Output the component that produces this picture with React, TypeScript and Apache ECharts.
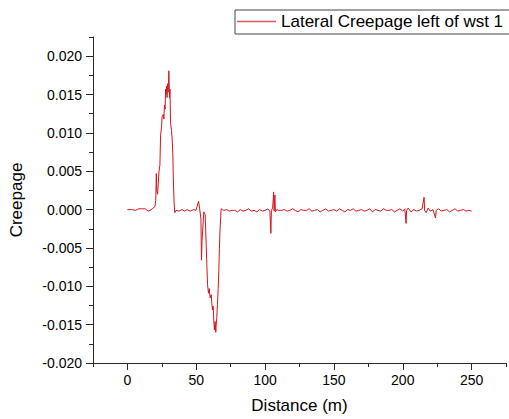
import React, { useEffect, useRef } from "react";
import * as echarts from "echarts";

const seriesName = "Lateral Creepage left of wst 1";
const xMajorTicks = [0, 50, 100, 150, 200, 250];
const yMajorTicks = [-0.02, -0.015, -0.01, -0.005, 0, 0.005, 0.01, 0.015, 0.02];

// [distance (m), creepage]
const approachSeg = [
  [0, 0.0], [3, 0.0], [6, -0.0001], [8, 0.0001], [11, 0.0001], [13, 0.0001],
  [15, -0.0002], [16.5, -0.0001], [18, 0.0001], [20, 0.0004], [20.6, 0.0012],
  [21, 0.0047], [21.3, 0.0025], [21.9, 0.002], [22.9, 0.0049], [23.6, 0.0058],
];
const positivePeakSeg = [
  [24.1, 0.0097], [24.8, 0.0108], [25.2, 0.0121], [26, 0.0124], [26.5, 0.0118],
  [26.9, 0.0136], [27.4, 0.0131], [27.7, 0.0157], [28.1, 0.015], [28.4, 0.0161],
  [28.8, 0.0146], [29.1, 0.0164], [29.6, 0.0153], [30.1, 0.0181], [30.3, 0.0166],
  [30.6, 0.0146], [30.9, 0.0157], [31.3, 0.0114], [32, 0.0103], [32.5, 0.0092],
  [33, 0.0071], [33.4, 0.0036], [33.9, 0.001], [34.4, -0.0004],
];
const middleSeg = [
  [35.3, -0.0001], [37.3, -0.0002], [39.7, 0.0], [41.6, -0.0002], [43.3, 0.0],
  [45.7, -0.0002], [48.1, 0.0], [49.8, -0.0001], [51.7, 0.0011], [52.4, 0.0002],
  [53.4, -0.0012],
];
const negativePeakSeg = [
  [53.8, -0.0066], [54.2, -0.004], [54.6, -0.0029], [55.5, -0.0003], [56.5, -0.0007],
  [57.2, -0.0046], [58.2, -0.0098], [58.9, -0.0109], [59.4, -0.0103], [60.1, -0.0115],
  [60.9, -0.0111], [61.3, -0.0122], [61.8, -0.0131], [62.3, -0.0126], [62.7, -0.0144],
  [63.2, -0.0157], [63.7, -0.0146], [64.2, -0.016], [64.5, -0.015], [64.9, -0.0141],
  [65.4, -0.0124], [65.9, -0.0103], [66.4, -0.0081], [66.8, -0.0051], [67.3, -0.0025],
  [68.1, 0.0001], [69, 0.0],
];
const tailSeg = [
  [70, -0.0001], [72, 0.0], [74, -0.0002], [76, -0.0001], [78, -0.0001], [80, -0.0003],
  [82, 0.0], [84, -0.0002], [86, -0.0001], [88, 0.0001], [90, -0.0002], [92, -0.0001],
  [94, -0.0003], [96, 0.0], [98, -0.0002], [100, -0.0001], [102, 0.0001], [103.5, -0.0002],
  [104.2, -0.0031], [104.6, -0.0001], [105.5, 0.0002], [106.2, 0.0023], [106.6, -0.0002],
  [107.1, 0.0019], [107.5, -0.0003], [108.5, 0.0], [110, -0.0001], [112, -0.0001],
  [114, 0.0], [116, -0.0002], [118, -0.0001], [120, 0.0001], [122, -0.0001], [124, -0.0003],
  [126, 0.0], [128, -0.0001], [130, -0.0001], [132, 0.0001], [134, -0.0002], [136, -0.0001],
  [138, 0.0], [140, -0.0003], [142, -0.0001], [144, 0.0001], [146, -0.0002], [148, -0.0001],
  [150, 0.0], [152, -0.0002], [154, 0.0001], [156, -0.0001], [158, -0.0003], [160, 0.0],
  [162, -0.0001], [164, 0.0001], [166, -0.0002], [168, -0.0001], [170, 0.0], [172, -0.0002],
  [174, -0.0001], [176, 0.0001], [178, -0.0003], [180, 0.0], [182, -0.0001], [184, -0.0002],
  [186, 0.0001], [188, -0.0001], [190, -0.0001], [192, 0.0], [194, -0.0003], [196, -0.0001],
  [198, 0.0001], [200, -0.0002], [201.5, 0.0001], [202.4, -0.0018], [202.8, -0.0001],
  [204, 0.0002], [206, -0.0003], [208, 0.0], [210, -0.0002], [212, -0.0001], [214, 0.0001],
  [215.5, 0.0016], [215.9, -0.0001], [217, -0.0004], [218.5, 0.0002], [220, -0.0002],
  [222, 0.0], [223.8, -0.0011], [224.3, -0.0001], [226, 0.0001], [228, -0.0002],
  [230, -0.0001], [232, 0.0], [234, -0.0003], [236, -0.0001], [238, 0.0001], [240, -0.0002],
  [242, -0.0001], [244, 0.0], [246, -0.0002], [248, -0.0001], [250, -0.0002],
];

const FONT = '"Liberation Sans", Arial, sans-serif';
const AXIS_COLOR = "#2b2b2b";
const LINE_COLOR = "#d8141b";

export default function App() {
  const ref = useRef<HTMLDivElement>(null);

  useEffect(() => {
    if (!ref.current) return;
    const chart = echarts.init(ref.current, null, { renderer: "svg" });
    const data = [
      ...approachSeg,
      ...positivePeakSeg,
      ...middleSeg,
      ...negativePeakSeg,
      ...tailSeg,
    ];
    const tickLine = { color: AXIS_COLOR, width: 1 };
    chart.setOption({
      animation: false,
      backgroundColor: "#ffffff",
      textStyle: { fontFamily: FONT },
      grid: { left: 93, right: 0, top: 37, bottom: 54, containLabel: false },
      legend: {
        left: 235,
        top: 10,
        padding: [3, 14, 4, 2],
        icon: "rect",
        itemWidth: 39,
        itemHeight: 1.5,
        borderColor: "#444",
        borderWidth: 1,
        itemStyle: { color: "#e0575d" },
        textStyle: { fontSize: 17, color: "#000", fontFamily: FONT },
        data: [seriesName],
      },
      xAxis: [
        {
          type: "value",
          min: -25,
          max: 275,
          interval: 25,
          position: "bottom",
          axisLine: { show: true, onZero: false, lineStyle: tickLine },
          axisTick: { show: true, length: 4, lineStyle: tickLine },
          axisLabel: {
            margin: 10,
            fontSize: 14,
            color: "#000",
            fontFamily: FONT,
            formatter: (v: number) => {
              const r = Math.round(v);
              return Math.abs(v - r) < 1e-6 && xMajorTicks.includes(r) ? String(r) : "";
            },
          },
          splitLine: { show: false },
          name: "Distance (m)",
          nameLocation: "middle",
          nameGap: 34,
          nameTextStyle: { fontSize: 17, color: "#000", fontFamily: FONT },
        },
        {
          type: "value",
          min: -25,
          max: 275,
          interval: 25,
          position: "bottom",
          axisLine: { show: false, onZero: false },
          axisTick: { show: true, length: 7, customValues: xMajorTicks, lineStyle: tickLine },
          axisLabel: { show: false },
          splitLine: { show: false },
        },
      ],
      yAxis: [
        {
          type: "value",
          min: -0.02,
          max: 0.0225,
          interval: 0.0025,
          position: "left",
          axisLine: { show: true, onZero: false, lineStyle: tickLine },
          axisTick: { show: true, length: 4, lineStyle: tickLine },
          axisLabel: {
            margin: 11,
            fontSize: 14,
            color: "#000",
            fontFamily: FONT,
            formatter: (v: number) => {
              const k = Math.round(v / 0.0025);
              if (Math.abs(v - k * 0.0025) > 1e-9 || k % 2 !== 0 || k > 8 || k < -8) return "";
              return (k * 0.0025).toFixed(3);
            },
          },
          splitLine: { show: false },
          name: "Creepage",
          nameLocation: "middle",
          nameRotate: 90,
          nameGap: 68,
          nameTextStyle: { fontSize: 17, color: "#000", fontFamily: FONT },
        },
        {
          type: "value",
          min: -0.02,
          max: 0.0225,
          interval: 0.0025,
          position: "left",
          axisLine: { show: false, onZero: false },
          axisTick: { show: true, length: 7, customValues: yMajorTicks, lineStyle: tickLine },
          axisLabel: { show: false },
          splitLine: { show: false },
        },
      ],
      series: [
        {
          name: seriesName,
          type: "line",
          xAxisIndex: 0,
          yAxisIndex: 0,
          data,
          symbol: "none",
          showSymbol: false,
          lineStyle: { color: LINE_COLOR, width: 1 },
          itemStyle: { color: LINE_COLOR },
        },
      ],
    });
    return () => chart.dispose();
  }, []);

  return (
    <div
      ref={ref}
      style={{ position: "absolute", left: 0, top: 0, width: 509, height: 419 }}
    />
  );
}
